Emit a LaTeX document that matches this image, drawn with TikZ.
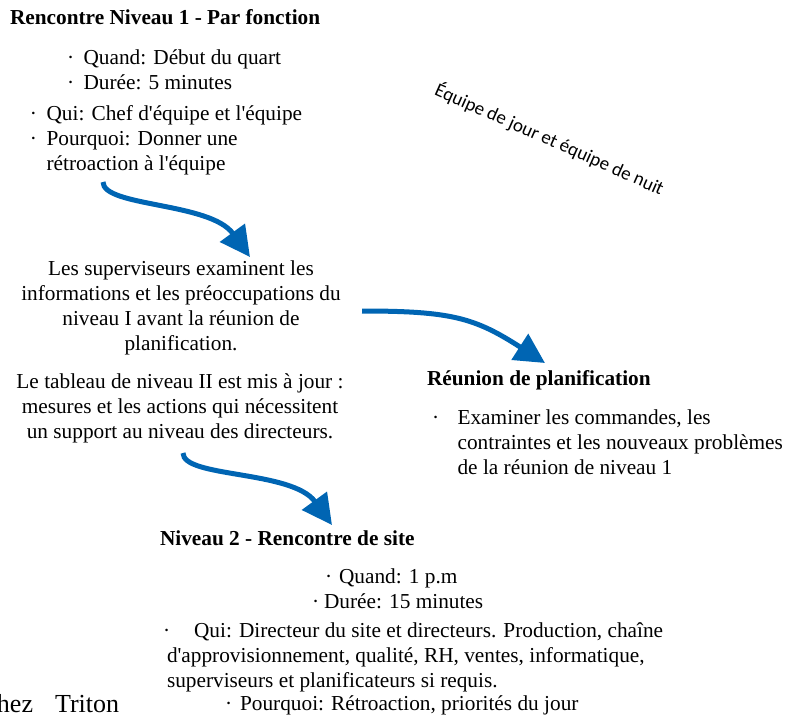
\documentclass[tikz,border=0pt]{standalone}
\usepackage{fontspec}
\setmainfont{Liberation Serif}[Ligatures=TeXOff]
\newfontfamily\crewfont{Carlito}
\definecolor{flowblue}{RGB}{0,101,179}
\usetikzlibrary{
  arrows.meta,   % triangle tips
  positioning    % relative placement
}
\tikzset{
  every node/.style = {
    inner sep=0pt,
    outer sep=0pt,
    font=\fontsize{21.3}{25}\selectfont
  },
  heading/.style = {anchor=base west, font=\fontsize{21.3}{25}\selectfont\bfseries},
  listing/.style = {anchor=base west},
  blurb/.style = {anchor=base},
  crews/.style = {anchor=base, rotate=-24, font=\fontsize{19}{22}\selectfont\crewfont},
  flow/.style = {draw=flowblue, line width=5pt, -{Triangle[length=30pt,width=30pt]}}
}

\begin{document}
\begin{tikzpicture}[x=1pt, y=1pt]
  \useasboundingbox (0,0) rectangle (796,-720);

  %% level 1
  \node[heading] (l1) at (10,-24) {Rencontre Niveau 1 - Par fonction};
  \node[listing] (l1when) at (67,-64) {\begin{tabular}[t]{@{}l@{\hspace{9.5pt}}l@{}}
      · & Quand: Début du quart\\
      · & Durée: 5 minutes
    \end{tabular}};
  \node[listing] (l1who) at (30,-120) {\begin{tabular}[t]{@{}l@{\hspace{9.5pt}}l@{}}
      · & Qui: Chef d'équipe et l'équipe\\
      · & Pourquoi: Donner une\\
        & rétroaction à l'équipe
    \end{tabular}};
  \node[crews] (shifts) at (547,-145) {Équipe de jour et équipe de nuit};

  %% supervisors
  \node[blurb] (review) at (181,-275) {\begin{tabular}[t]{@{}c@{}}
      Les superviseurs examinent les\\
      informations et les préoccupations du\\
      niveau I avant la réunion de\\
      planification.
    \end{tabular}};
  \node[blurb] (board) at (180,-388) {\begin{tabular}[t]{@{}c@{}}
      Le tableau de niveau II est mis à jour :\\
      mesures et les actions qui nécessitent\\
      un support au niveau des directeurs.
    \end{tabular}};

  %% planning
  \node[heading] (plan) at (427,-385) {Réunion de planification};
  \node[listing] (planwhat) at (432,-424) {\begin{tabular}[t]{@{}l@{\hspace{18.5pt}}l@{}}
      · & Examiner les commandes, les\\
        & contraintes et les nouveaux problèmes\\
        & de la réunion de niveau 1
    \end{tabular}};

  %% level 2
  \node[heading] (l2) at (160,-545) {Niveau 2 - Rencontre de site};
  \node[listing] (l2when) at (325,-583) {·\hspace{7pt}Quand: 1 p.m};
  \node[listing] (l2length) at (312,-608) {·\hspace{5pt}Durée: 15 minutes};
  \node[listing] (l2who) at (163,-637) {\begin{tabular}[t]{@{}l@{}}
      ·\hspace{24pt}Qui: Directeur du site et directeurs. Production, chaîne\\
      \hspace*{4pt}d'approvisionnement, qualité, RH, ventes, informatique,\\
      \hspace*{4pt}superviseurs et planificateurs si requis.
    \end{tabular}};
  \node[listing] (l2why) at (225,-710) {·\hspace{8pt}Pourquoi: Rétroaction, priorités du jour};
  \node[listing, font=\fontsize{26}{30}\selectfont] (site) at (-3,-712) {hez\hspace{22pt}Triton};

  %% arrows
  \draw[flow] ([shift={(73,-62)}]l1who.base west)
    .. controls +(0,-25) and +(-40,55) .. ([shift={(69,18)}]review.base);
  \draw[flow] ([shift={(181,-36)}]review.base)
    .. controls +(90,0) and +(-70,45) .. ([shift={(118,22)}]plan.base west);
  \draw[flow] ([shift={(3,-65)}]board.base)
    .. controls +(0,-25) and +(-40,55) .. ([shift={(172,20)}]l2.base west);

\end{tikzpicture}
\end{document}
